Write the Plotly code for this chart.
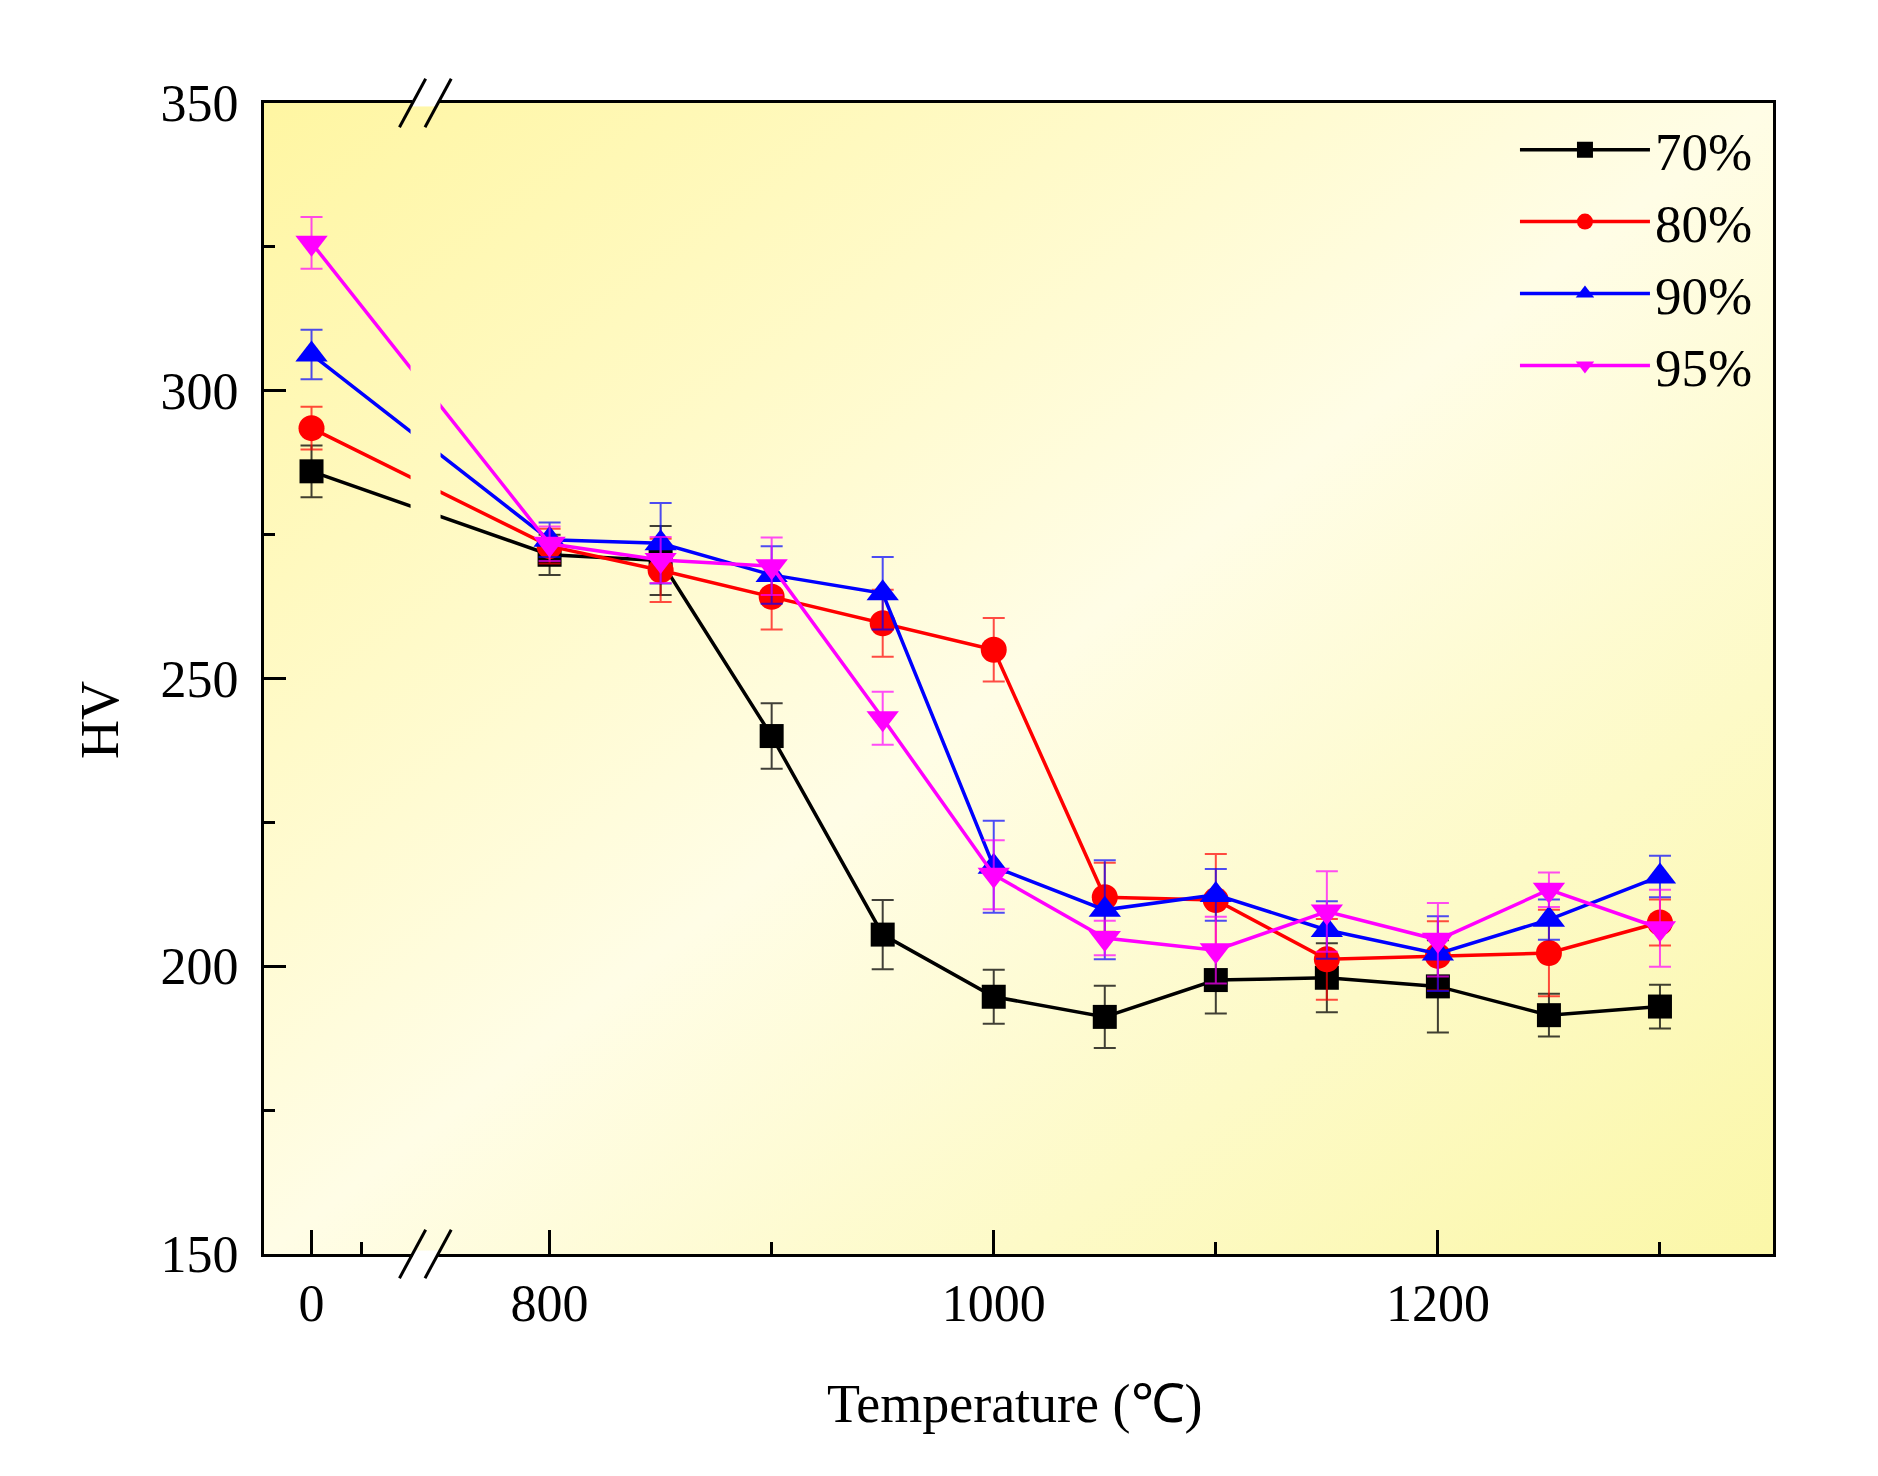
import base64
import plotly.graph_objects as go

# ---------------- data ----------------
temperature = [0, 800, 850, 900, 950, 1000, 1050, 1100, 1150, 1200, 1250, 1300]

hv_70 = [286.0, 271.5, 270.5, 240.0, 205.5, 194.7, 191.2, 197.6, 198.0, 196.5, 191.5, 193.0]
err_70 = [4.5, 3.5, 6.0, 5.7, 6.0, 4.7, 5.4, 5.8, 6.0, 8.0, 3.7, 3.8]

hv_80 = [293.5, 273.0, 268.8, 264.2, 259.6, 255.0, 212.0, 211.5, 201.2, 201.8, 202.3, 207.6]
err_80 = [3.7, 3.0, 5.5, 5.7, 5.8, 5.5, 6.0, 8.0, 7.0, 6.0, 7.5, 4.0]

hv_90 = [306.3, 274.1, 273.5, 268.0, 264.8, 217.3, 209.8, 212.4, 206.3, 202.2, 208.1, 215.6]
err_90 = [4.3, 3.0, 7.0, 5.0, 6.3, 8.0, 8.6, 4.5, 5.0, 6.5, 3.5, 3.6]

hv_95 = [325.7, 273.4, 270.6, 269.5, 243.1, 215.9, 204.9, 202.8, 209.5, 204.6, 213.3, 206.6]
err_95 = [4.5, 3.0, 4.0, 5.0, 4.6, 6.0, 3.0, 5.8, 7.0, 6.4, 3.0, 6.7]

series_names = ["70%", "80%", "90%", "95%"]
x_tick_labels = ["0", "800", "1000", "1200"]
x_tick_temps = [0, 800, 1000, 1200]

# ---------------- broken-axis layout (positions, not data) ----------------
ZERO_POS = 692.8          # axis position where T = 0 is drawn
LEFT_MINOR_POS = 715.3    # minor tick in the left segment
X_RANGE = [671.4, 1350.9]
Y_RANGE = [150, 350]
BREAK_GAP = [737.4, 750.9]
BREAK_MARKS = [738.3, 749.8]


def axis_x(t):
    return t if t >= 800 else ZERO_POS + t


xs = [axis_x(t) for t in temperature]

FONT = "Liberation Serif, Times New Roman, serif"
colors = ["#000000", "#FF0000", "#0000FF", "#FF00FF"]
err_colors = ["rgba(0,0,0,0.75)", "rgba(255,0,0,0.7)", "rgba(0,0,255,0.7)", "rgba(255,0,255,0.7)"]
symbols = ["square", "circle", "triangle-up", "triangle-down"]
sizes = [24, 26, 28, 28]
values = [hv_70, hv_80, hv_90, hv_95]
errors = [err_70, err_80, err_90, err_95]

fig = go.Figure()
for name, vals, errs, col, ecol, sym, sz in zip(series_names, values, errors, colors, err_colors, symbols, sizes):
    fig.add_trace(go.Scatter(
        x=xs, y=vals, name=name, mode="lines+markers",
        line=dict(color=col, width=3.5),
        marker=dict(symbol=sym, size=sz, color=col, line=dict(width=0)),
        error_y=dict(type="data", array=errs, visible=True, color=ecol, thickness=2, width=11),
    ))

# ---------------- gradient background ----------------
def svg_uri(clip=None):
    clip_def = ""
    clip_attr = ""
    if clip is not None:
        cx, cy, cw, ch = clip
        clip_def = f'<clipPath id="c"><rect x="{cx}" y="{cy}" width="{cw}" height="{ch}"/></clipPath>'
        clip_attr = ' clip-path="url(#c)"'
    svg = (
        '<svg xmlns="http://www.w3.org/2000/svg" width="1000" height="1000" '
        'viewBox="0 0 1000 1000" preserveAspectRatio="none"><defs>'
        '<linearGradient id="g" x1="0" y1="0" x2="1" y2="1">'
        '<stop offset="0" stop-color="#FFF6A2"/>'
        '<stop offset="0.5" stop-color="#FFFDE6"/>'
        '<stop offset="1" stop-color="#FBF7A8"/>'
        '</linearGradient>' + clip_def + '</defs>'
        f'<rect x="0" y="0" width="1000" height="1000" fill="url(#g)"{clip_attr}/></svg>'
    )
    return "data:image/svg+xml;base64," + base64.b64encode(svg.encode()).decode()


xw = X_RANGE[1] - X_RANGE[0]
gx0 = (BREAK_GAP[0] - X_RANGE[0]) / xw * 1000
gx1 = (BREAK_GAP[1] - X_RANGE[0]) / xw * 1000
gy0 = (Y_RANGE[1] - 345) / (Y_RANGE[1] - Y_RANGE[0]) * 1000
gy1 = (Y_RANGE[1] - 262) / (Y_RANGE[1] - Y_RANGE[0]) * 1000

images = [
    dict(source=svg_uri(), xref="paper", yref="paper", x=0, y=1, sizex=1, sizey=1,
         sizing="stretch", layer="below", xanchor="left", yanchor="top"),
    dict(source=svg_uri((gx0, gy0, gx1 - gx0, gy1 - gy0)), xref="paper", yref="paper",
         x=0, y=1, sizex=1, sizey=1, sizing="stretch", layer="above", xanchor="left", yanchor="top"),
]

# ---------------- axis break marks ----------------
shapes = []
for yb in (0, 1):
    shapes.append(dict(type="rect", xref="x", yref="paper", x0=BREAK_MARKS[0], x1=BREAK_MARKS[1],
                       y0=yb - 0.003, y1=yb + 0.003, fillcolor="white", line=dict(width=0), layer="above"))
    for bx in BREAK_MARKS:
        shapes.append(dict(type="line", xref="x", yref="paper", x0=bx - 5.9, x1=bx + 5.9,
                           y0=yb - 0.021, y1=yb + 0.021, line=dict(color="black", width=3), layer="above"))

annotations = [
    dict(text="Temperature (℃)", xref="paper", yref="paper", x=0.498, y=0, yshift=-150,
         xanchor="center", yanchor="middle", showarrow=False, font=dict(family=FONT, size=54, color="black")),
    dict(text="HV", xref="paper", yref="paper", x=0, xshift=-164, y=0.464, textangle=-90,
         xanchor="center", yanchor="middle", showarrow=False, font=dict(family=FONT, size=54, color="black")),
]

fig.update_layout(
    width=1878, height=1476,
    margin=dict(l=264, r=105, t=103, b=222),
    paper_bgcolor="white",
    plot_bgcolor="rgba(0,0,0,0)",
    font=dict(family=FONT, size=52, color="black"),
    showlegend=True,
    legend=dict(x=0.829, y=0.995, xanchor="left", yanchor="top", bgcolor="rgba(0,0,0,0)",
                borderwidth=0, itemwidth=130, font=dict(family=FONT, size=53, color="black"),
                tracegroupgap=0),
    images=images,
    shapes=shapes,
    annotations=annotations,
    xaxis=dict(
        range=X_RANGE, showgrid=False, zeroline=False,
        showline=True, linecolor="black", linewidth=3, mirror=True,
        ticks="inside", ticklen=24, tickwidth=2.5, tickcolor="black",
        tickmode="array", tickvals=[axis_x(t) for t in x_tick_temps], ticktext=x_tick_labels,
        ticklabelstandoff=2,
        tickfont=dict(family=FONT, size=52, color="black"),
        minor=dict(tickmode="array", tickvals=[LEFT_MINOR_POS, 900, 1100, 1300],
                   ticks="inside", ticklen=12, tickwidth=2.5, tickcolor="black", showgrid=False),
    ),
    yaxis=dict(
        range=Y_RANGE, showgrid=False, zeroline=False,
        showline=True, linecolor="black", linewidth=3, mirror=True,
        ticks="inside", ticklen=22, tickwidth=2.5, tickcolor="black",
        tick0=150, dtick=50, ticklabelstandoff=12,
        tickfont=dict(family=FONT, size=52, color="black"),
        minor=dict(dtick=25, ticks="inside", ticklen=11, tickwidth=2.5, tickcolor="black", showgrid=False),
    ),
)

fig.write_html("out.html")
